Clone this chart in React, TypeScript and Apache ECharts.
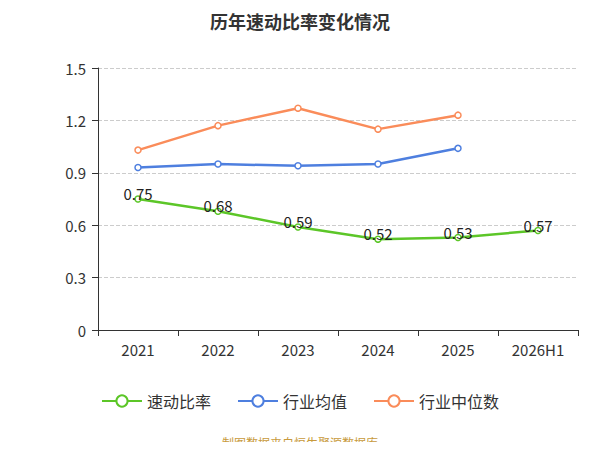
import React, { useEffect, useRef } from 'react';
import * as echarts from 'echarts';

const years = ['2021', '2022', '2023', '2024', '2025', '2026H1'];
const quickRatio = [0.75, 0.68, 0.59, 0.52, 0.53, 0.57];
const industryAvg = [0.93, 0.95, 0.94, 0.95, 1.04];
const industryMedian = [1.03, 1.17, 1.27, 1.15, 1.23];

const font = '"Noto Sans CJK SC", "Noto Sans", sans-serif';

const App: React.FC = () => {
    const chartRef = useRef<HTMLDivElement>(null);

    useEffect(() => {
        if (!chartRef.current) return;
        const chart = echarts.init(chartRef.current, undefined, { renderer: 'svg' });
        const line = (name: string, data: number[], color: string, label: boolean) => ({
            name,
            type: 'line',
            data,
            symbol: 'circle',
            symbolSize: 6,
            itemStyle: { color: '#fff', borderColor: color, borderWidth: 1.5 },
            lineStyle: { color, width: 2.5 },
            label: label
                ? { show: true, position: 'top', offset: [0, 11], color: '#222', fontSize: 15, fontFamily: font }
                : { show: false },
        });
        chart.setOption({
            animation: false,
            textStyle: { fontFamily: font },
            title: {
                text: '历年速动比率变化情况',
                left: 'center',
                top: 7,
                textStyle: { fontSize: 18, fontWeight: 'bold', color: '#333', fontFamily: font },
            },
            grid: { left: 98, right: 22, top: 68, bottom: 120 },
            legend: {
                bottom: 36,
                itemWidth: 40,
                itemHeight: 14,
                itemGap: 26,
                textStyle: { fontSize: 16, color: '#333' },
                data: [
                    { name: '速动比率', itemStyle: { color: '#fff', borderColor: '#5cc628' } },
                    { name: '行业均值', itemStyle: { color: '#fff', borderColor: '#4e7fdf' } },
                    { name: '行业中位数', itemStyle: { color: '#fff', borderColor: '#fa8c5a' } },
                ],
            },
            xAxis: {
                type: 'category',
                data: years,
                axisTick: { show: true, length: 6, lineStyle: { color: '#333' } },
                axisLine: { lineStyle: { color: '#333' } },
                axisLabel: { fontSize: 15, color: '#333', margin: 12 },
            },
            yAxis: {
                type: 'value',
                min: 0,
                max: 1.5,
                interval: 0.3,
                axisLine: { show: true, lineStyle: { color: '#333' } },
                axisTick: { show: true, length: 6, lineStyle: { color: '#333' } },
                axisLabel: { fontSize: 15, color: '#333', margin: 12, formatter: (v: number) => (v === 0 ? '0' : v.toFixed(1)) },
                splitLine: { lineStyle: { type: 'dashed', color: '#ccc' } },
            },
            series: [
                line('速动比率', quickRatio, '#5cc628', true),
                line('行业均值', industryAvg, '#4e7fdf', false),
                line('行业中位数', industryMedian, '#fa8c5a', false),
            ],
            graphic: [
                {
                    type: 'text',
                    left: 'center',
                    bottom: 2,
                    style: { text: '制图数据来自恒生聚源数据库', fill: '#c89a3c', fontSize: 12, fontFamily: font },
                },
            ],
        });
        return () => chart.dispose();
    }, []);

    return <div ref={chartRef} style={{ width: 600, height: 450, margin: -8 }} />;
};

export default App;
